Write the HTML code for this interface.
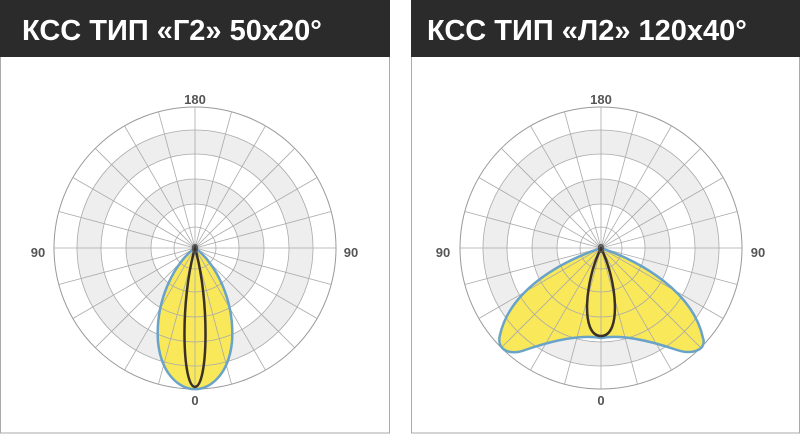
<!DOCTYPE html>
<html><head><meta charset="utf-8"><style>
body{margin:0;background:#fff;}
svg{display:block;}
</style></head><body>
<svg width="800" height="434" viewBox="0 0 800 434" xmlns="http://www.w3.org/2000/svg">
<defs>
<g id="lines" fill="none">
  <circle r="141" stroke="#999" stroke-width="1"/>
  <circle r="118" stroke="#aaa" stroke-width="0.8"/>
  <circle r="94" stroke="#aaa" stroke-width="0.8"/>
  <circle r="69" stroke="#aaa" stroke-width="0.8"/>
  <circle r="44" stroke="#aaa" stroke-width="0.8"/>
  <circle r="21" stroke="#aaa" stroke-width="0.8"/>
  <g stroke="#aaa" stroke-width="0.8">
    <line x1="-141" y1="0" x2="141" y2="0"/>
    <line x1="0" y1="-141" x2="0" y2="141"/>
    <line x1="-136.2" y1="-36.5" x2="136.2" y2="36.5"/>
    <line x1="-136.2" y1="36.5" x2="136.2" y2="-36.5"/>
    <line x1="-122.1" y1="-70.5" x2="122.1" y2="70.5"/>
    <line x1="-122.1" y1="70.5" x2="122.1" y2="-70.5"/>
    <line x1="-99.7" y1="-99.7" x2="99.7" y2="99.7"/>
    <line x1="-99.7" y1="99.7" x2="99.7" y2="-99.7"/>
    <line x1="-70.5" y1="-122.1" x2="70.5" y2="122.1"/>
    <line x1="-70.5" y1="122.1" x2="70.5" y2="-122.1"/>
    <line x1="-36.5" y1="-136.2" x2="36.5" y2="136.2"/>
    <line x1="-36.5" y1="136.2" x2="36.5" y2="-136.2"/>
  </g>
</g>
<g id="bands" stroke="none">
  <circle r="141" fill="#fff"/>
  <circle r="118" fill="#eeeeee"/>
  <circle r="94" fill="#fff"/>
  <circle r="69" fill="#eeeeee"/>
  <circle r="44" fill="#fff"/>
</g>
</defs>
<rect x="0.5" y="0.5" width="389" height="432.5" fill="#fff" stroke="#aaa"/>
<rect x="411.5" y="0.5" width="388" height="432.5" fill="#fff" stroke="#aaa"/>
<rect x="0" y="0" width="390" height="57" fill="#2b2b2b"/>
<rect x="411" y="0" width="389" height="57" fill="#2b2b2b"/>
<g font-family="Liberation Sans, DejaVu Sans, sans-serif" font-weight="bold" fill="#fff" font-size="29">
<text x="22" y="40">КСС ТИП «Г2» 50х20°</text>
<text x="427" y="40">КСС ТИП «Л2» 120х40°</text>
</g>
<g transform="translate(195,248)"><use href="#bands"/></g>
<g transform="translate(601,248)"><use href="#bands"/></g>
<path d="M195,248 C175,262 155,300 158,342 C162,380 185,390 195,389 C205,390 228,380 232,342 C235,300 215,262 195,248 Z" fill="#f8e85a"/>
<path d="M601,248 C560,262 510,290 500,335 C496,350 510,356 525,350 C560,338 585,335 601,338 C617,335 642,338 677,350 C692,355 707,350 703,338 C693,292 642,262 601,248 Z" fill="#f8e85a"/>
<g transform="translate(195,248)"><use href="#lines"/></g>
<g transform="translate(601,248)"><use href="#lines"/></g>
<path d="M195,248 C175,262 155,300 158,342 C162,380 185,390 195,389 C205,390 228,380 232,342 C235,300 215,262 195,248 Z" fill="none" stroke="#6aa3c8" stroke-width="2.5"/>
<path d="M195,248 C180,300 182,386 195,387 C208,386 210,300 195,248 Z" fill="none" stroke="#3a3026" stroke-width="2.5"/>
<path d="M601,248 C560,262 510,290 500,335 C496,350 510,356 525,350 C560,338 585,335 601,338 C617,335 642,338 677,350 C692,355 707,350 703,338 C693,292 642,262 601,248 Z" fill="none" stroke="#6aa3c8" stroke-width="2.5"/>
<path d="M601,248 C585,280 580,336 601,336 C622,336 617,280 601,248 Z" fill="none" stroke="#3a3026" stroke-width="2.5"/>
<g font-family="Liberation Sans, DejaVu Sans, sans-serif" font-weight="bold" fill="#555" font-size="13" text-anchor="middle">
<text x="195" y="104">180</text>
<text x="195" y="253">0</text>
<text x="195" y="405">0</text>
<text x="38" y="257">90</text>
<text x="351" y="257">90</text>
<text x="601" y="104">180</text>
<text x="601" y="253">0</text>
<text x="601" y="405">0</text>
<text x="443" y="257">90</text>
<text x="758" y="257">90</text>
</g>
</svg>
</body></html>
